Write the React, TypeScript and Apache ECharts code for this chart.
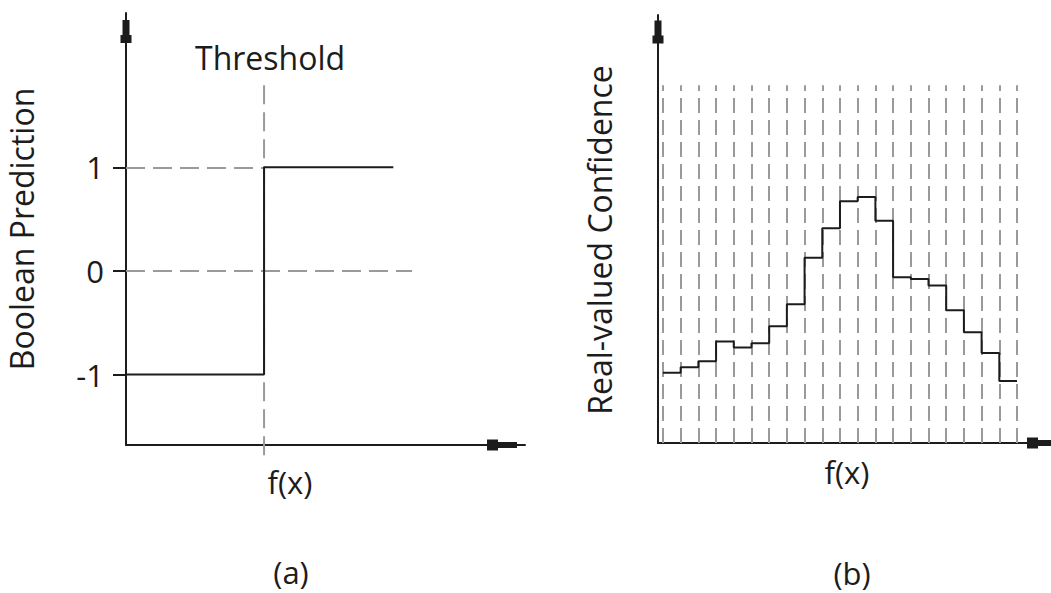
import React, { useEffect, useRef } from "react";
import * as echarts from "echarts";

// Panel (a): boolean prediction around a threshold on f(x)
const PRED_TICKS = [-1, 0, 1];
const PRED_X_RANGE = [0, 100];
const PRED_Y_RANGE = [-1.68, 2.49];
const THRESHOLD = 34.6;
const PRED_LOW = -1;
const PRED_HIGH = 1;
const PRED_HIGH_END = 67;
const ZERO_GUIDE_END = 71.7;
const THRESHOLD_SPAN = [-1.78, 1.87];

// Panel (b): real-valued confidence per f(x) bin
const BIN_EDGES = Array.from({ length: 21 }, (_, i) => i);
const CONFIDENCE = [
  16.4, 17.7, 19.1, 23.7, 22.3, 23.3, 27.3, 32.4, 43.3, 50.2,
  56.5, 57.5, 51.9, 38.7, 38.3, 36.8, 31.0, 25.9, 21.0, 14.5,
];
const CONF_X_RANGE = [-0.28, 21.92];
const CONF_Y_RANGE = [0, 100];
const BIN_GUIDE_TOP = 83.6;

const FONT = "'Open Sans', 'Noto Sans', sans-serif";
const INK = "#1c1c1c";
const GUIDE = "#9a9a9a";

// block-shaped axis heads, drawn pointing up and rotated by the axis
const HEAD_V = "path://M2,0 L9,0 L9,15 L11,15 L11,23 L0,23 L0,15 L2,15 Z";
const HEAD_H = "path://M2.5,0 L8.5,0 L8.5,19 L11,19 L11,30 L0,30 L0,19 L2.5,19 Z";

export default function App() {
  const ref = useRef<HTMLDivElement>(null);

  useEffect(() => {
    if (!ref.current) return;
    const chart = echarts.init(ref.current, null, { renderer: "svg" });

    const axisLine = (head: string, size: number[], offset: number) => ({
      show: true,
      onZero: false,
      symbol: ["none", head],
      symbolSize: size,
      symbolOffset: [0, offset],
      lineStyle: { color: INK, width: 2 },
    });

    const stepData = CONFIDENCE.map((v, i) => [BIN_EDGES[i], v]);
    stepData.push([BIN_EDGES[BIN_EDGES.length - 1], CONFIDENCE[CONFIDENCE.length - 1]]);

    const dashedGuide = (dash: number[]) => ({
      color: GUIDE,
      width: 2,
      type: dash,
    });

    const textStyle = { fontSize: 32, fontFamily: FONT, color: INK };

    chart.setOption({
      animation: false,
      backgroundColor: "#ffffff",
      textStyle: { fontFamily: FONT },
      title: [
        { text: "f(x)", left: 290, top: 482 },
        { text: "(a)", left: 291, top: 572 },
        { text: "f(x)", left: 847, top: 472 },
        { text: "(b)", left: 852, top: 573 },
      ].map((t) => ({
        ...t,
        textAlign: "center",
        textVerticalAlign: "middle",
        padding: 0,
        textStyle: { ...textStyle, fontSize: 31, fontWeight: "normal" },
      })),
      grid: [
        { left: 126, top: 13, width: 399, bottom: 148 },
        { left: 658, top: 15, right: 0, bottom: 150 },
      ],
      xAxis: [
        {
          gridIndex: 0,
          type: "value",
          min: PRED_X_RANGE[0],
          max: PRED_X_RANGE[1],
          axisLine: axisLine(HEAD_H, [11, 30], -23),
          axisTick: { show: false },
          axisLabel: { show: false },
          splitLine: { show: false },
        },
        {
          gridIndex: 1,
          type: "value",
          min: CONF_X_RANGE[0],
          max: CONF_X_RANGE[1],
          axisLine: axisLine(HEAD_H, [11, 30], -9),
          axisTick: { show: false },
          axisLabel: { show: false },
          splitLine: { show: false },
        },
      ],
      yAxis: [
        {
          gridIndex: 0,
          type: "value",
          min: PRED_Y_RANGE[0],
          max: PRED_Y_RANGE[1],
          axisLine: axisLine(HEAD_V, [11, 23], -18.5),
          axisTick: {
            show: true,
            customValues: PRED_TICKS,
            length: 13,
            lineStyle: { color: INK, width: 2 },
          },
          axisLabel: {
            show: true,
            customValues: PRED_TICKS,
            margin: 22,
            ...textStyle,
            fontSize: 31,
          },
          splitLine: { show: false },
          name: "Boolean Prediction",
          nameLocation: "middle",
          nameGap: 89,
          nameTextStyle: textStyle,
        },
        {
          gridIndex: 1,
          type: "value",
          min: CONF_Y_RANGE[0],
          max: CONF_Y_RANGE[1],
          axisLine: axisLine(HEAD_V, [11, 23], -17),
          axisTick: { show: false },
          axisLabel: { show: false },
          splitLine: { show: false },
          name: "Real-valued Confidence",
          nameLocation: "middle",
          nameGap: 43,
          nameTextStyle: { ...textStyle, padding: [0, 22, 0, 0] },
        },
      ],
      series: [
        {
          // dashed threshold marker, running a little past the f(x) axis
          name: "Threshold",
          type: "line",
          xAxisIndex: 0,
          yAxisIndex: 0,
          z: 4,
          clip: false,
          symbol: "none",
          silent: true,
          lineStyle: dashedGuide([19, 8]),
          data: [
            [THRESHOLD, THRESHOLD_SPAN[0]],
            [THRESHOLD, THRESHOLD_SPAN[1]],
          ],
        },
        {
          name: "Threshold label",
          type: "scatter",
          xAxisIndex: 0,
          yAxisIndex: 0,
          silent: true,
          symbolSize: 1,
          itemStyle: { color: "rgba(0,0,0,0)" },
          label: {
            show: true,
            position: "top",
            distance: 3,
            offset: [6, 0],
            formatter: "Threshold",
            opacity: 1,
            ...textStyle,
          },
          data: [[THRESHOLD, THRESHOLD_SPAN[1]]],
        },
        {
          name: "Boolean Prediction",
          type: "line",
          xAxisIndex: 0,
          yAxisIndex: 0,
          z: 10,
          clip: false,
          symbol: "none",
          lineStyle: { color: INK, width: 2 },
          data: [
            [PRED_X_RANGE[0], PRED_LOW],
            [THRESHOLD, PRED_LOW],
            [THRESHOLD, PRED_HIGH],
            [PRED_HIGH_END, PRED_HIGH],
          ],
          markLine: {
            silent: true,
            symbol: "none",
            animation: false,
            label: { show: false },
            lineStyle: dashedGuide([19, 8]),
            data: [
              [{ coord: [PRED_X_RANGE[0], PRED_HIGH] }, { coord: [THRESHOLD, PRED_HIGH] }],
              [{ coord: [PRED_X_RANGE[0], 0] }, { coord: [ZERO_GUIDE_END, 0] }],
            ],
          },
        },
        {
          name: "Real-valued Confidence",
          type: "line",
          xAxisIndex: 1,
          yAxisIndex: 1,
          z: 10,
          step: "end",
          symbol: "none",
          lineStyle: { color: INK, width: 2 },
          data: stepData,
          markLine: {
            silent: true,
            symbol: "none",
            animation: false,
            label: { show: false },
            lineStyle: dashedGuide([15, 7]),
            data: BIN_EDGES.map((x) => [
              { coord: [x, CONF_Y_RANGE[0]] },
              { coord: [x, BIN_GUIDE_TOP] },
            ]),
          },
        },
      ],
    });

    return () => chart.dispose();
  }, []);

  return (
    <div
      ref={ref}
      style={{ position: "absolute", left: 0, top: 0, width: 1051, height: 593 }}
    />
  );
}
